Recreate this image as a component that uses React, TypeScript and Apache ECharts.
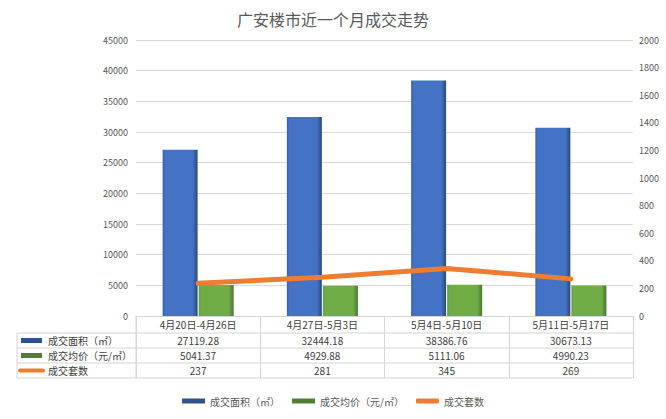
import React, { useEffect, useRef } from "react";
import * as echarts from "echarts";

const title = "广安楼市近一个月成交走势";
const categories = ["4月20日-4月26日", "4月27日-5月3日", "5月4日-5月10日", "5月11日-5月17日"];
const seriesNames = ["成交面积（㎡）", "成交均价（元/㎡）", "成交套数"];
const areaValues = [27119.28, 32444.18, 38386.76, 30673.13];
const priceValues = [5041.37, 4929.88, 5111.06, 4990.23];
const countValues = [237, 281, 345, 269];
const leftAxis = { min: 0, max: 45000, interval: 5000 };
const rightAxis = { min: 0, max: 2000, interval: 200 };

const FONT = '"Noto Sans CJK SC", "Noto Sans", sans-serif';

export default function App() {
  const ref = useRef<HTMLDivElement>(null);
  useEffect(() => {
    if (!ref.current) return;
    const chart = echarts.init(ref.current, null, { renderer: "svg" });

    const gridLeft = 136;
    const gridRight = 633;
    const gridTop = 40;
    const gridBottom = 316;
    const headerH = 17;
    const rowH = 15;
    const tableLeft = 17;
    const tableBottom = gridBottom + headerH + rowH * 3;
    const lineColor = "#d4d4d4";

    const graphics: any[] = [];
    for (let r = 0; r <= 3; r++) {
      const y = gridBottom + headerH + rowH * r;
      graphics.push({
        type: "line",
        shape: { x1: tableLeft, y1: y, x2: gridRight, y2: y },
        style: { stroke: lineColor, lineWidth: 1 },
        silent: true,
      });
    }
    graphics.push({
      type: "line",
      shape: { x1: tableLeft, y1: gridBottom + headerH, x2: tableLeft, y2: tableBottom },
      style: { stroke: lineColor, lineWidth: 1 },
      silent: true,
    });
    graphics.push({
      type: "line",
      shape: { x1: gridLeft, y1: gridBottom, x2: gridLeft, y2: tableBottom },
      style: { stroke: lineColor, lineWidth: 1 },
      silent: true,
    });
    const iconColors = ["#2f528f", "#507e32", "#ed7d31"];
    seriesNames.forEach((name, i) => {
      const cy = gridBottom + headerH + rowH * i + rowH / 2;
      if (i < 2) {
        graphics.push({
          type: "rect",
          shape: { x: 21, y: cy - 2.5, width: 21, height: 5 },
          style: { fill: iconColors[i] },
          silent: true,
        });
      } else {
        graphics.push({
          type: "rect",
          shape: { x: 18, y: cy - 2, width: 27, height: 4, r: 2 },
          style: { fill: iconColors[i] },
          silent: true,
        });
      }
      graphics.push({
        type: "text",
        x: 48,
        y: cy,
        style: {
          text: name,
          fill: "#404040",
          fontSize: 10,
          fontFamily: FONT,
          verticalAlign: "middle",
          align: "left",
        },
        silent: true,
      });
    });

    const fmt = (v: number) => (Number.isInteger(v) ? String(v) : v.toFixed(2));

    chart.setOption({
      animation: false,
      backgroundColor: "#ffffff",
      textStyle: { fontFamily: FONT },
      title: {
        text: title,
        left: "center",
        top: 6,
        textStyle: { fontSize: 16, fontWeight: "normal", color: "#595959", fontFamily: FONT },
      },
      legend: {
        left: "center",
        top: 391,
        itemWidth: 23,
        itemHeight: 5,
        itemGap: 12,
        textStyle: { fontSize: 10, color: "#595959", fontFamily: FONT },
        data: [
          { name: seriesNames[0], icon: "rect", itemStyle: { color: "#2f528f" } },
          { name: seriesNames[1], icon: "rect", itemStyle: { color: "#507e32" } },
          { name: seriesNames[2], icon: "roundRect", itemStyle: { color: "#ed7d31" } },
        ],
      },
      grid: {
        left: gridLeft,
        right: 666 - gridRight,
        top: gridTop,
        bottom: 419 - gridBottom,
        containLabel: false,
      },
      xAxis: {
        type: "category",
        data: categories,
        boundaryGap: true,
        axisLine: { show: true, lineStyle: { color: lineColor } },
        axisTick: { show: true, interval: 0, length: headerH + rowH * 3, lineStyle: { color: lineColor } },
        axisLabel: {
          interval: 0,
          margin: 0,
          formatter: (value: string, index: number) =>
            `{h|${value}}\n{v|${fmt(areaValues[index])}}\n{v|${fmt(priceValues[index])}}\n{v|${fmt(countValues[index])}}`,
          rich: {
            h: { fontSize: 10, lineHeight: headerH, color: "#404040", fontFamily: FONT },
            v: { fontSize: 10, lineHeight: rowH, color: "#404040", fontFamily: FONT },
          },
        },
      },
      yAxis: [
        {
          type: "value",
          min: leftAxis.min,
          max: leftAxis.max,
          interval: leftAxis.interval,
          axisLine: { show: false },
          axisTick: { show: false },
          axisLabel: {
            fontSize: 9,
            color: "#595959",
            margin: 8,
            fontFamily: FONT,
            formatter: (v: number) => String(v),
          },
          splitLine: { show: true, lineStyle: { color: "#d9d9d9" } },
        },
        {
          type: "value",
          min: rightAxis.min,
          max: rightAxis.max,
          interval: rightAxis.interval,
          axisLine: { show: false },
          axisTick: { show: false },
          axisLabel: {
            fontSize: 9,
            color: "#595959",
            margin: 6,
            fontFamily: FONT,
            formatter: (v: number) => String(v),
          },
          splitLine: { show: false },
        },
      ],
      series: [
        {
          name: seriesNames[0],
          type: "bar",
          data: areaValues,
          barWidth: 35,
          barGap: "3%",
          itemStyle: {
            color: new echarts.graphic.LinearGradient(0, 0, 1, 0, [
              { offset: 0, color: "#3a63ad" },
              { offset: 0.08, color: "#4472c4" },
              { offset: 0.86, color: "#4472c4" },
              { offset: 1, color: "#2a4779" },
            ]),
          },
        },
        {
          name: seriesNames[1],
          type: "bar",
          data: priceValues,
          barWidth: 35,
          itemStyle: {
            color: new echarts.graphic.LinearGradient(0, 0, 1, 0, [
              { offset: 0, color: "#66a03f" },
              { offset: 0.08, color: "#70ad47" },
              { offset: 0.86, color: "#70ad47" },
              { offset: 1, color: "#4a7430" },
            ]),
          },
        },
        {
          name: seriesNames[2],
          type: "line",
          yAxisIndex: 1,
          data: countValues,
          symbol: "none",
          z: 10,
          color: "#ed7d31",
          itemStyle: { color: "#ed7d31" },
          lineStyle: { color: "#ed7d31", width: 5, cap: "round", join: "round" },
        },
      ],
      graphic: graphics,
    });

    return () => chart.dispose();
  }, []);

  return (
    <div
      ref={ref}
      style={{ position: "fixed", left: 0, top: 0, width: 666, height: 419, background: "#fff" }}
    />
  );
}
